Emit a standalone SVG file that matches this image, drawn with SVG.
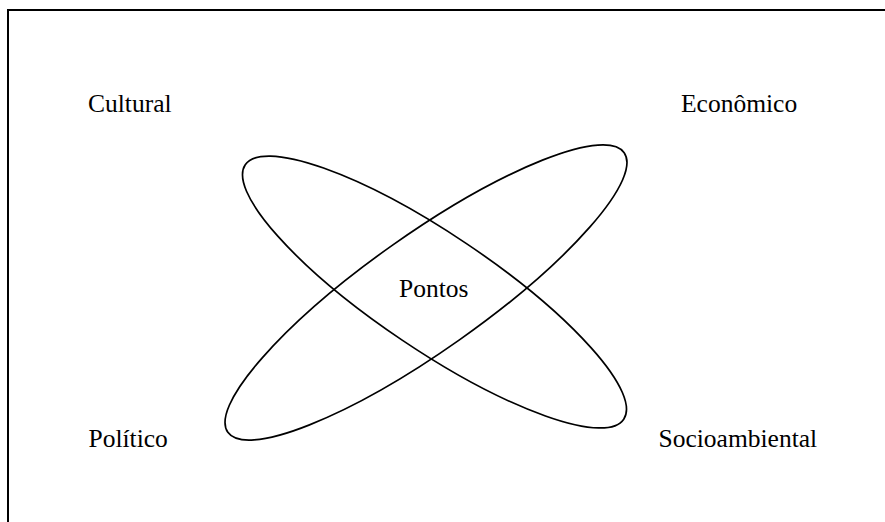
<svg xmlns="http://www.w3.org/2000/svg" width="885" height="522" viewBox="0 0 885 522">
<style>
.lbl{font-family:"Liberation Serif","Times New Roman",serif;font-size:25.5px;fill:#000}
.ring{fill:none;stroke:#000;stroke-width:1.7}
.frame{fill:none;stroke:#000;stroke-width:2}
</style>
<rect width="885" height="522" fill="#fff"/>
<path class="frame" d="M8,522 V10 H885"/>
<g id="connectors">
<ellipse id="ellipse-a" class="ring" cx="434.5" cy="292" rx="228" ry="58" transform="rotate(33.9 434.5 292)"/>
<ellipse id="ellipse-b" class="ring" cx="426" cy="292.5" rx="242.5" ry="58" transform="rotate(-35.2 426 292.5)"/>
</g>
<g id="cultural"><text class="lbl" x="88" y="111.7">Cultural</text></g>
<g id="economico"><text class="lbl" x="681" y="111.7">Econômico</text></g>
<g id="politico"><text class="lbl" x="88.5" y="446.7">Político</text></g>
<g id="socioambiental"><text class="lbl" x="658.5" y="447">Socioambiental</text></g>
<g id="pontos"><text class="lbl" x="399" y="297.3">Pontos</text></g>
</svg>
